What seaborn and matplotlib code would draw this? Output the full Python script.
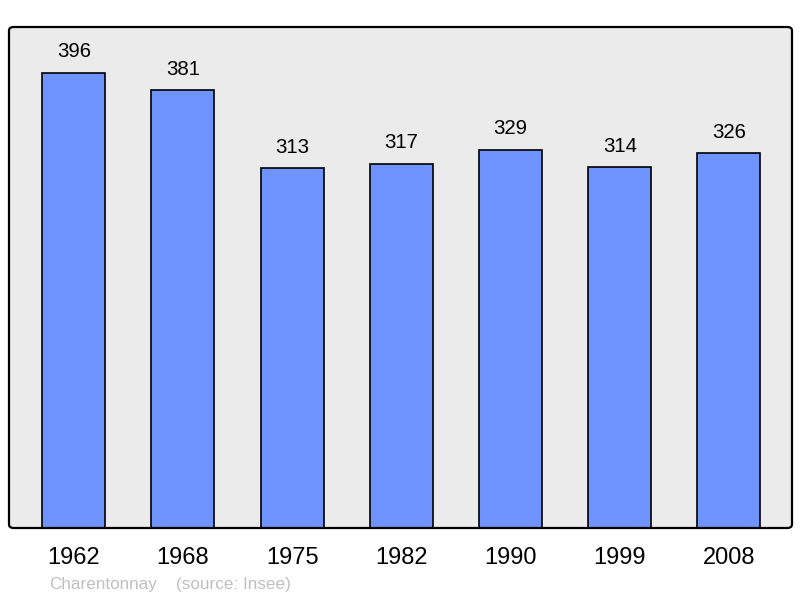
import matplotlib
matplotlib.use('Agg')
import matplotlib.pyplot as plt
from matplotlib.patches import FancyBboxPatch
import seaborn as sns
import pandas as pd

# Data
years = ['1962', '1968', '1975', '1982', '1990', '1999', '2008']
population = [396, 381, 313, 317, 329, 314, 326]
commune = 'Charentonnay'
source_note = '(source: Insee)'

df = pd.DataFrame({'year': years, 'population': population})

sns.set_theme(style='white')
plt.rcParams['font.family'] = ['Liberation Sans', 'DejaVu Sans']

fig = plt.figure(figsize=(8, 5.98), dpi=100)
# axes box: x 9..792, y 27..528 px
ax = fig.add_axes([9 / 800, 1 - 528 / 598, 783 / 800, 501 / 598])
ax.set_facecolor('#ebebeb')

sns.barplot(data=df, x='year', y='population', color='#7094ff',
            edgecolor='black', linewidth=1.2, width=0.577, saturation=1, ax=ax)

for i, v in enumerate(population):
    ax.text(i, v + 10, str(v), ha='center', va='bottom', fontsize=14.7, color='black')

ax.set_xlim(-0.593, 6.577)
ax.set_ylim(0, 436)
ax.set_xlabel('')
ax.set_ylabel('')
ax.set_yticks([])
ax.tick_params(axis='x', length=0, labelsize=17, pad=14, colors='black')
for s in ax.spines.values():
    s.set_visible(False)

# rounded frame around the plot area
frame = FancyBboxPatch((9 / 800, 1 - 528 / 598), 783 / 800, 501 / 598,
                       boxstyle='round,pad=0,rounding_size=0.006',
                       transform=fig.transFigure, facecolor='none',
                       edgecolor='black', linewidth=1.6, zorder=10)
fig.patches.append(frame)

fig.text(49 / 800, 1 - 584 / 598, commune, color='#c0c0c0', fontsize=12.3, va='center', ha='left')
fig.text(176 / 800, 1 - 584 / 598, source_note, color='#c0c0c0', fontsize=12.3, va='center', ha='left')

fig.savefig('out.png', dpi=100)
